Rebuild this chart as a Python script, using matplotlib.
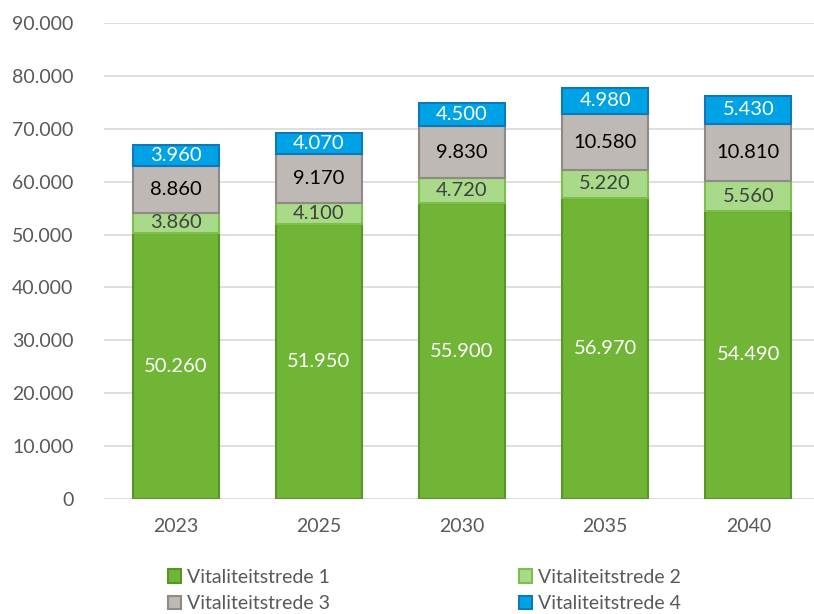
import numpy as np
import matplotlib.pyplot as plt

plt.rcParams['font.family'] = ['Lato', 'DejaVu Sans']

# Years on the x axis
years = ["2023", "2025", "2030", "2035", "2040"]

# Values per vitality step
stap1 = [50260, 51950, 55900, 56970, 54490]
stap2 = [3860, 4100, 4720, 5220, 5560]
stap3 = [8860, 9170, 9830, 10580, 10810]
stap4 = [3960, 4070, 4500, 4980, 5430]

labels = ["Vitaliteitstrede 1", "Vitaliteitstrede 2", "Vitaliteitstrede 3", "Vitaliteitstrede 4"]
faces = ["#70B535", "#A9DA8A", "#BEB9B5", "#00A2E6"]
edges = ["#5A9428", "#7DBE4E", "#8F8A86", "#0F78B8"]
txtcol = ["white", "#404040", "black", "white"]

fig = plt.figure( figsize = ( 8.14 , 6.14 ) , dpi = 100 )
ax = fig.add_axes( [ 104/814 , 1 - 499/614 , 716/814 , 476/614 ] )

x = np.arange( len( years ) )
bottom = np.zeros( len( years ) )
series = [ stap1 , stap2 , stap3 , stap4 ]

handles = []
for i in range( 4 ):
    vals = np.array( series[ i ] )
    bars = ax.bar( x , vals , 0.6 , bottom = bottom , color = faces[ i ] ,
                   edgecolor = edges[ i ] , linewidth = 1.5 , label = labels[ i ] , zorder = 3 )
    handles.append( bars )
    for j in range( len( years ) ):
        txt = "{:,}".format( vals[ j ] ).replace( ",", "." )
        ax.text( x[ j ] , bottom[ j ] + vals[ j ]/2 , txt , ha = "center" , va = "center" ,
                 color = txtcol[ i ] , fontsize = 14.5 , zorder = 4 )
    bottom = bottom + vals

ax.set_xlim( -0.5 , 4.5 )
ax.set_ylim( 0 , 90000 )
ax.set_yticks( np.arange( 0 , 90001 , 10000 ) )
ax.set_yticklabels( [ "{:,}".format( v ).replace( ",", "." ) for v in range( 0 , 90001 , 10000 ) ] )
ax.set_xticks( x )
ax.set_xticklabels( years )
ax.grid( axis = "y" , color = "#D9D9D9" , linewidth = 1.2 , zorder = 0 )
for s in ax.spines.values():
    s.set_visible( False )
ax.tick_params( length = 0 , labelsize = 14 , labelcolor = "#595959" )
ax.tick_params( axis = "y" , pad = 22 )
ax.tick_params( axis = "x" , pad = 14 )

# legend fills column by column, so reorder to get 1 2 / 3 4 rows
order = [ 0 , 2 , 1 , 3 ]
leg = fig.legend( [ handles[ k ] for k in order ] , [ labels[ k ] for k in order ] ,
                  loc = "lower left" , bbox_to_anchor = ( 150/814 , -0.026 ) , ncol = 2 ,
                  frameon = False , fontsize = 14 , handlelength = 0.7 , handleheight = 0.7 ,
                  handletextpad = 0.3 , columnspacing = 9.7 , labelspacing = 0.5 )
for t in leg.get_texts():
    t.set_color( "#595959" )

plt.savefig( "out.png" )
